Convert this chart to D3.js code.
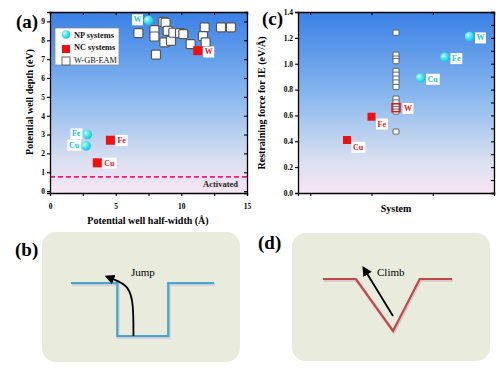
<!DOCTYPE html>
<html>
<head>
<meta charset="utf-8">
<script src="https://cdn.jsdelivr.net/npm/d3@7"></script>
<style>
  body { margin: 0; background: #fff; }
  text { font-family: "Liberation Serif", "Times New Roman", serif; }
</style>
</head>
<body>
<div id="chart"></div>
<script>
// panel (a): potential well depth vs half-width
const npNames = ["W", "Fe", "Cu"];
const npHalfWidth = [7.5, 2.85, 2.75];
const npDepth = [9.05, 3.0, 2.4];
const ncNames = ["Cu", "Fe", "W"];
const ncHalfWidth = [3.6, 4.6, 11.25];
const ncDepth = [1.5, 2.7, 7.45];
const gbHalfWidth = [6.73, 7.95, 7.95, 8.07, 8.63, 8.71, 8.8, 8.96, 9.21, 9.39, 9.9, 10.15, 10.71, 11.78, 11.65, 11.85, 13.02, 13.78];
const gbDepth = [8.38, 8.54, 8.2, 7.24, 8.98, 7.89, 8.93, 8.5, 7.97, 8.4, 8.38, 8.33, 7.8, 8.68, 8.22, 7.89, 8.68, 8.68];
const activatedDepth = 0.75;
const xTicksA = [0, 5, 10, 15];
const yTicksA = [0, 1, 2, 3, 4, 5, 6, 7, 8, 9];

// panel (c): restraining force per system
const ncSystem = [1, 2, 3];
const ncForce = [0.41, 0.59, 0.66];
const npSystemNames = ["Cu", "Fe", "W"];
const npSystem = [4, 5, 6];
const npForce = [0.89, 1.05, 1.21];
const gbSystem = 3;
const gbForce = [1.24, 1.07, 1.04, 1.02, 0.945, 0.915, 0.885, 0.855, 0.82, 0.73, 0.70, 0.67, 0.65, 0.63, 0.475];
const xTicksC = [-0.5, 2, 4.5, 7];
const yTicksC = [0, 0.2, 0.4, 0.6, 0.8, 1.0, 1.2, 1.4];

// schematic profiles (b) and (d)
const wellX = [0, 0.97, 0.97, 2.04, 2.04, 3];
const wellY = [1, 1, 0, 0, 1, 1];
const vX = [0, 1.02, 2.17, 3, 4];
const vY = [1, 1, 0, 1, 1];

const W = 500, H = 368;
const svg = d3.select("#chart").append("svg").attr("width", W).attr("height", H);
const defs = svg.append("defs");

const bg = defs.append("linearGradient").attr("id", "bgGrad").attr("x1", 0).attr("y1", 0).attr("x2", 0).attr("y2", 1);
bg.append("stop").attr("offset", "0%").attr("stop-color", "#3a80e6");
bg.append("stop").attr("offset", "45%").attr("stop-color", "#86b6ee");
bg.append("stop").attr("offset", "80%").attr("stop-color", "#d6def0");
bg.append("stop").attr("offset", "100%").attr("stop-color", "#f8e6f4");

const sph = defs.append("radialGradient").attr("id", "sphere").attr("cx", "35%").attr("cy", "35%").attr("r", "65%");
sph.append("stop").attr("offset", "0%").attr("stop-color", "#ffffff");
sph.append("stop").attr("offset", "30%").attr("stop-color", "#6ef0f4");
sph.append("stop").attr("offset", "100%").attr("stop-color", "#10c8d8");

defs.append("marker").attr("id", "arrow").attr("viewBox", "0 0 10 10")
  .attr("refX", 2).attr("refY", 5).attr("markerWidth", 5.5).attr("markerHeight", 5.5)
  .attr("orient", "auto").attr("markerUnits", "strokeWidth")
  .append("path").attr("d", "M0,0 L10,5 L0,10 z").attr("fill", "#000");

function styleAxis(g) {
  g.select(".domain").attr("stroke", "#000").attr("stroke-width", 1.3);
  g.selectAll(".tick line").attr("stroke", "#000").attr("stroke-width", 1.1);
  g.selectAll(".tick text").attr("font-size", 7.5).attr("font-weight", "bold")
    .attr("font-family", "Liberation Serif, serif").attr("fill", "#000");
}

// small white box behind a point label
function labelBox(parent, x, y, txt, color, anchor) {
  const g = parent.append("g");
  const box = g.append("rect").attr("fill", "#fff");
  const t = g.append("text").attr("x", x).attr("y", y).attr("font-size", 8).attr("font-weight", "bold")
    .attr("text-anchor", anchor || "start")
    .attr("fill", color).attr("dominant-baseline", "middle").text(txt);
  const bb = t.node().getBBox();
  box.attr("x", bb.x - 1.5).attr("y", bb.y - 1).attr("width", bb.width + 3).attr("height", bb.height + 2);
}

// ---------- panel (a) ----------
const xa = d3.scaleLinear([0, 15], [50, 247]);
const ya = d3.scaleLinear([-0.1, 9.5], [193, 12]);
const ga = svg.append("g");
ga.append("rect").attr("x", 50).attr("y", 12).attr("width", 197).attr("height", 181).attr("fill", "url(#bgGrad)");

ga.append("line").attr("x1", xa(0)).attr("x2", xa(15)).attr("y1", ya(activatedDepth)).attr("y2", ya(activatedDepth))
  .attr("stroke", "#ea1f7c").attr("stroke-width", 1.8).attr("stroke-dasharray", "5,3");
ga.append("text").attr("x", 238).attr("y", ya(0.22)).attr("text-anchor", "end").attr("font-size", 8.5)
  .attr("font-weight", "bold").attr("fill", "#222").text("Activated");

ga.append("g").attr("transform", "translate(0,193)")
  .call(d3.axisBottom(xa).tickValues(d3.range(0, 15.1, 2.5)).tickSize(3).tickPadding(8)
    .tickFormat(d => xTicksA.includes(d) ? d : "")).call(styleAxis);
ga.append("g").attr("transform", "translate(0,12)")
  .call(d3.axisTop(xa).tickValues(d3.range(0, 15.1, 2.5)).tickSize(-3).tickFormat("")).call(styleAxis);
ga.append("g").attr("transform", "translate(50,0)")
  .call(d3.axisLeft(ya).tickValues(yTicksA).tickSize(3).tickPadding(2)).call(styleAxis);
ga.append("g").attr("transform", "translate(247,0)")
  .call(d3.axisRight(ya).tickValues(yTicksA).tickSize(-3).tickFormat("")).call(styleAxis);

ga.selectAll(".gb").data(gbHalfWidth).join("rect").attr("class", "gb")
  .attr("x", (d, i) => xa(d) - 4.5).attr("y", (d, i) => ya(gbDepth[i]) - 4.5)
  .attr("width", 9).attr("height", 9).attr("rx", 1.2)
  .attr("fill", "#fff").attr("stroke", "#555").attr("stroke-width", 1.2);

ga.selectAll(".nc").data(ncHalfWidth).join("rect").attr("class", "nc")
  .attr("x", d => xa(d) - 4.5).attr("y", (d, i) => ya(ncDepth[i]) - 4.5)
  .attr("width", 9).attr("height", 9).attr("fill", "#f01010");
ncHalfWidth.forEach((d, i) => {
  const dy = ncNames[i] === "W" ? 2 : 1;
  labelBox(ga, xa(d) + 7, ya(ncDepth[i]) + dy, ncNames[i], "#e01818");
});

ga.selectAll(".np").data(npHalfWidth).join("circle").attr("class", "np")
  .attr("cx", d => xa(d)).attr("cy", (d, i) => ya(npDepth[i])).attr("r", 4.8).attr("fill", "url(#sphere)");
npHalfWidth.forEach((d, i) => {
  labelBox(ga, xa(d) - 7, ya(npDepth[i]), npNames[i], "#22c8d0", "end");
});

// legend
const lg = ga.append("g");
lg.append("rect").attr("x", 55).attr("y", 28).attr("width", 64).attr("height", 37).attr("fill", "#fff")
  .attr("stroke", "#888").attr("stroke-width", 0.8);
lg.append("circle").attr("cx", 66).attr("cy", 34.5).attr("r", 4.3).attr("fill", "url(#sphere)");
lg.append("rect").attr("x", 62).attr("y", 45).attr("width", 8).attr("height", 8).attr("fill", "#f01010");
lg.append("rect").attr("x", 62).attr("y", 57).attr("width", 8).attr("height", 8).attr("fill", "#fff")
  .attr("stroke", "#555").attr("stroke-width", 0.9);
["NP systems", "NC systems", "W-GB-EAM"].forEach((s, i) => {
  lg.append("text").attr("x", 74).attr("y", 37.5 + i * 12.5).attr("font-size", 8.3)
    .attr("font-weight", i < 2 ? "bold" : "normal").attr("fill", "#111").text(s);
});

ga.append("text").attr("transform", "translate(33,102) rotate(-90)").attr("text-anchor", "middle")
  .attr("font-size", 10).attr("font-weight", "bold").text("Potential well depth (eV)");
ga.append("text").attr("x", 148).attr("y", 224).attr("text-anchor", "middle")
  .attr("font-size", 10).attr("font-weight", "bold").text("Potential well half-width (Å)");
ga.append("text").attr("x", 16).attr("y", 28).attr("font-size", 19).attr("font-weight", "bold").text("(a)");

// ---------- panel (c) ----------
const xc = d3.scaleLinear([-1, 7], [298, 494]);
const yc = d3.scaleLinear([0, 1.4], [193, 12]);
const gc = svg.append("g");
gc.append("rect").attr("x", 298).attr("y", 12).attr("width", 196).attr("height", 181).attr("fill", "url(#bgGrad)");

gc.append("g").attr("transform", "translate(0,193)")
  .call(d3.axisBottom(xc).tickValues(xTicksC).tickSize(3).tickFormat("")).call(styleAxis);
gc.append("g").attr("transform", "translate(0,12)")
  .call(d3.axisTop(xc).tickValues(xTicksC).tickSize(-3).tickFormat("")).call(styleAxis);
gc.append("g").attr("transform", "translate(298,0)")
  .call(d3.axisLeft(yc).tickValues(yTicksC).tickSize(3).tickPadding(2).tickFormat(d3.format(".1f"))).call(styleAxis);
gc.append("g").attr("transform", "translate(494,0)")
  .call(d3.axisRight(yc).tickValues(d3.range(0, 1.41, 0.1)).tickSize(-3).tickFormat("")).call(styleAxis);

gc.selectAll(".gb").data(gbForce).join("rect").attr("class", "gb")
  .attr("x", xc(gbSystem) - 3).attr("y", d => yc(d) - 2.6)
  .attr("width", 6).attr("height", 5.2).attr("rx", 1)
  .attr("fill", "#fff").attr("stroke", "#555").attr("stroke-width", 0.9);

gc.selectAll(".nc").data(ncForce).join("rect").attr("class", "nc")
  .attr("x", (d, i) => xc(ncSystem[i]) - 4).attr("y", d => yc(d) - 4)
  .attr("width", 8).attr("height", 8)
  .attr("fill", (d, i) => ncNames[i] === "W" ? "none" : "#f01010")
  .attr("stroke", (d, i) => ncNames[i] === "W" ? "#e01818" : "none").attr("stroke-width", 1.5);
ncForce.forEach((d, i) => {
  const dy = ncNames[i] === "W" ? 1.5 : 8;
  const dx = ncNames[i] === "W" ? 8 : 6;
  labelBox(gc, xc(ncSystem[i]) + dx, yc(d) + dy, ncNames[i], "#e01818");
});

gc.selectAll(".np").data(npForce).join("circle").attr("class", "np")
  .attr("cx", (d, i) => xc(npSystem[i])).attr("cy", d => yc(d)).attr("r", 4.8).attr("fill", "url(#sphere)");
npForce.forEach((d, i) => {
  labelBox(gc, xc(npSystem[i]) + 7, yc(d) + 2, npSystemNames[i], "#22c8d0");
});

gc.append("text").attr("transform", "translate(265,103) rotate(-90)").attr("text-anchor", "middle")
  .attr("font-size", 10).attr("font-weight", "bold").text("Restraining force for IE (eV/Å)");
gc.append("text").attr("x", 396).attr("y", 212).attr("text-anchor", "middle")
  .attr("font-size", 10).attr("font-weight", "bold").text("System");
gc.append("text").attr("x", 262).attr("y", 25).attr("font-size", 19).attr("font-weight", "bold").text("(c)");

// ---------- panel (b) ----------
const gb = svg.append("g");
gb.append("rect").attr("x", 42).attr("y", 232).attr("width", 198).attr("height", 130).attr("rx", 14)
  .attr("fill", "#e9ebdc");
gb.append("text").attr("x", 15).attr("y", 256).attr("font-size", 19).attr("font-weight", "bold").text("(b)");
const xb = d3.scaleLinear([0, 3], [71, 214]);
const yb = d3.scaleLinear([0, 1], [336, 283]);
const wellLine = d3.line().x(d => xb(d[0])).y(d => yb(d[1]));
const wellPts = d3.zip(wellX, wellY);
gb.append("path").attr("d", wellLine(wellPts)).attr("fill", "none").attr("stroke", "#c8ccd8")
  .attr("stroke-width", 3).attr("transform", "translate(0.8,1.2)");
gb.append("path").attr("d", wellLine(wellPts)).attr("fill", "none").attr("stroke", "#4aa6c8").attr("stroke-width", 2.2);
const jumpPts = [[1.31, 0], [1.31, 0.6], [1.22, 0.95], [0.86, 1.08]];
gb.append("path").attr("d", d3.line().x(d => xb(d[0])).y(d => yb(d[1])).curve(d3.curveBasis)(jumpPts))
  .attr("fill", "none").attr("stroke", "#000").attr("stroke-width", 1.8).attr("marker-end", "url(#arrow)");
gb.append("text").attr("x", 131).attr("y", 276).attr("font-size", 11).text("Jump");

// ---------- panel (d) ----------
const gd = svg.append("g");
gd.append("rect").attr("x", 292).attr("y", 233).attr("width", 198).attr("height", 128).attr("rx", 14)
  .attr("fill", "#e9ebdc");
gd.append("text").attr("x", 258).attr("y", 249).attr("font-size", 19).attr("font-weight", "bold").text("(d)");
const xd = d3.scaleLinear([0, 4], [323, 452]);
const yd = d3.scaleLinear([0, 1], [331, 279]);
const vLine = d3.line().x(d => xd(d[0])).y(d => yd(d[1]));
const vPts = d3.zip(vX, vY);
gd.append("path").attr("d", vLine(vPts)).attr("fill", "none").attr("stroke", "#d8c8c8")
  .attr("stroke-width", 3).attr("transform", "translate(0.8,1.2)");
gd.append("path").attr("d", vLine(vPts)).attr("fill", "none").attr("stroke", "#c0474a").attr("stroke-width", 2.2);
const climbPts = [[2.17, 0.29], [1.35, 1.12]];
gd.append("path").attr("d", vLine(climbPts)).attr("fill", "none").attr("stroke", "#000")
  .attr("stroke-width", 1.8).attr("marker-end", "url(#arrow)");
gd.append("text").attr("x", 377).attr("y", 276).attr("font-size", 11).text("Climb");
</script>
</body>
</html>
